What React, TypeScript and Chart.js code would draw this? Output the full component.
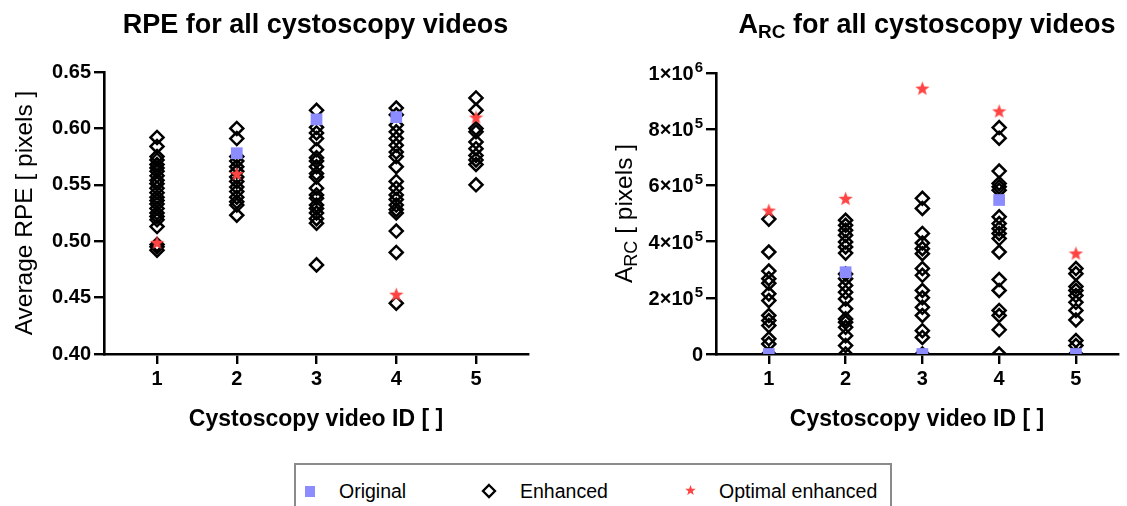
import React, { useEffect, useRef } from 'react';
import { Chart, registerables } from 'chart.js';
Chart.register(...registerables);

// ---------- DATA ----------
const videoIds = [1, 2, 3, 4, 5];

const rpeOriginal: (number | null)[] = [null, 0.578, 0.608, 0.61, null];
const rpeOptimal: (number | null)[] = [0.499, 0.56, null, 0.453, 0.61];
const rpeEnhanced1 = [0.592, 0.584, 0.575, 0.572, 0.568, 0.565, 0.562, 0.558, 0.554, 0.551, 0.547, 0.543, 0.539, 0.536, 0.533, 0.529, 0.525, 0.522, 0.519, 0.513, 0.497, 0.495, 0.492];
const rpeEnhanced2 = [0.6, 0.591, 0.575, 0.571, 0.566, 0.562, 0.557, 0.553, 0.548, 0.544, 0.539, 0.535, 0.532, 0.523];
const rpeEnhanced3 = [0.616, 0.601, 0.596, 0.591, 0.581, 0.574, 0.571, 0.566, 0.56, 0.557, 0.547, 0.541, 0.538, 0.532, 0.529, 0.525, 0.52, 0.516, 0.479];
const rpeEnhanced4 = [0.618, 0.612, 0.603, 0.597, 0.591, 0.585, 0.579, 0.575, 0.566, 0.553, 0.547, 0.541, 0.537, 0.532, 0.528, 0.525, 0.509, 0.49, 0.445];
const rpeEnhanced5 = [0.627, 0.616, 0.6, 0.597, 0.588, 0.582, 0.576, 0.572, 0.568, 0.55];
const rpeTickValues = [0.4, 0.45, 0.5, 0.55, 0.6, 0.65];
const rpeTickLabels = ['0.40', '0.45', '0.50', '0.55', '0.60', '0.65'];

const arcOriginal: (number | null)[] = [0, 291000, 0, 548000, 0];
const arcOptimal: (number | null)[] = [512000, 554000, 946000, 865000, 359000];
const arcEnhanced1 = [480000, 363000, 295000, 268000, 252000, 214000, 190000, 137000, 119000, 101000, 54000, 36000, 0];
const arcEnhanced2 = [476000, 458000, 440000, 423000, 399000, 381000, 359000, 285000, 268000, 244000, 220000, 196000, 161000, 125000, 113000, 95000, 65000, 30000, 0];
const arcEnhanced3 = [554000, 518000, 429000, 395000, 375000, 357000, 304000, 280000, 226000, 200000, 166000, 137000, 83000, 59000, 0];
const arcEnhanced4 = [806000, 768000, 651000, 607000, 595000, 583000, 488000, 464000, 446000, 429000, 411000, 363000, 265000, 226000, 155000, 137000, 86000, 0];
const arcEnhanced5 = [304000, 286000, 240000, 226000, 208000, 184000, 155000, 121000, 48000, 30000, 0];
const arcTickValues = [0, 200000, 400000, 600000, 800000, 1000000];
const arcTickBases = ['0', '2×10', '4×10', '6×10', '8×10', '1×10'];
const arcTickExps = ['', '5', '5', '5', '5', '6'];

const seriesNames = ['Original', 'Enhanced', 'Optimal enhanced'];
const xAxisTitle = 'Cystoscopy video ID [ ]';

// ---------- STYLE ----------
const FONT = '"Liberation Sans", Arial, Helvetica, sans-serif';
const ORIGINAL_COLOR = '#8c8cff';
const OPTIMAL_COLOR = '#ff4444';

type Part = { t: string; sub?: boolean };

function drawParts(ctx: CanvasRenderingContext2D, parts: Part[], cx: number, y: number, size: number, weight: string) {
  const subSize = Math.round(size * 0.72);
  const widths = parts.map((p) => {
    ctx.font = `${weight} ${p.sub ? subSize : size}px ${FONT}`;
    return ctx.measureText(p.t).width;
  });
  const total = widths.reduce((a, b) => a + b, 0);
  let x = cx - total / 2;
  ctx.textAlign = 'left';
  ctx.textBaseline = 'alphabetic';
  parts.forEach((p, i) => {
    ctx.font = `${weight} ${p.sub ? subSize : size}px ${FONT}`;
    ctx.fillText(p.t, x, p.sub ? y + size * 0.2 : y);
    x += widths[i];
  });
}

function makeStar(size: number, color: string) {
  const c = document.createElement('canvas');
  c.width = size;
  c.height = size;
  const g = c.getContext('2d')!;
  const cx = size / 2, cy = size / 2 + size * 0.05, R = size / 2, r = R * 0.42;
  g.beginPath();
  for (let i = 0; i < 10; i++) {
    const a = -Math.PI / 2 + (i * Math.PI) / 5;
    const rad = i % 2 === 0 ? R : r;
    g.lineTo(cx + rad * Math.cos(a), cy + rad * Math.sin(a));
  }
  g.closePath();
  g.fillStyle = color;
  g.fill();
  return c;
}

type Cfg = {
  original: (number | null)[];
  optimal: (number | null)[];
  enhanced: number[][];
  yMin: number;
  yMax: number;
  yTicks: number[];
  yLabels?: string[];
  yBases?: string[];
  yExps?: string[];
  xMin: number;
  xMax: number;
  yWidth: number;
  padTop: number;
  padRight: number;
  title: Part[];
  titleX: number;
  yTitle: Part[];
  yTitleX: number;
};

function makeChart(canvas: HTMLCanvasElement, cfg: Cfg) {
  const star = makeStar(15, OPTIMAL_COLOR);
  const enhancedPts: { x: number; y: number }[] = [];
  cfg.enhanced.forEach((arr, i) => arr.forEach((v) => enhancedPts.push({ x: videoIds[i], y: v })));
  const originalPts = cfg.original
    .map((v, i) => (v === null ? null : { x: videoIds[i], y: v }))
    .filter((p) => p !== null) as { x: number; y: number }[];
  const optimalPts = cfg.optimal
    .map((v, i) => (v === null ? null : { x: videoIds[i], y: v }))
    .filter((p) => p !== null) as { x: number; y: number }[];

  const supTicks = !!cfg.yBases;

  const textPlugin = {
    id: 'customTexts',
    afterDraw(chart: any) {
      const ctx = chart.ctx as CanvasRenderingContext2D;
      const ca = chart.chartArea;
      ctx.save();
      ctx.fillStyle = '#000';
      drawParts(ctx, cfg.title, cfg.titleX, 33, 27, 'bold');
      drawParts(ctx, [{ t: xAxisTitle }], (ca.left + ca.right) / 2, 426, 23, 'bold');
      if (supTicks) {
        const ys = chart.scales.y;
        const right = ys.right - 10 - 3;
        cfg.yTicks.forEach((v, i) => {
          const py = ys.getPixelForValue(v);
          const base = cfg.yBases![i];
          const exp = cfg.yExps![i];
          ctx.font = `bold 15px ${FONT}`;
          const we = exp ? ctx.measureText(exp).width + 1 : 0;
          ctx.font = `bold 20px ${FONT}`;
          const wb = ctx.measureText(base).width;
          ctx.textAlign = 'left';
          ctx.textBaseline = 'alphabetic';
          ctx.fillText(base, right - we - wb, py + 7);
          if (exp) {
            ctx.font = `bold 15px ${FONT}`;
            ctx.fillText(exp, right - we + 1, py - 1);
          }
        });
      }
      ctx.translate(cfg.yTitleX, (ca.top + ca.bottom) / 2);
      ctx.rotate(-Math.PI / 2);
      drawParts(ctx, cfg.yTitle, 0, 0, 24.5, 'normal');
      ctx.restore();
    },
  };

  return new Chart(canvas, {
    type: 'scatter',
    data: {
      datasets: [
        {
          label: seriesNames[2],
          data: optimalPts,
          pointStyle: star as any,
          pointRadius: 7.5,
          order: 0,
        },
        {
          label: seriesNames[0],
          data: originalPts,
          pointStyle: 'rect',
          pointRadius: 8.3,
          backgroundColor: ORIGINAL_COLOR,
          borderColor: ORIGINAL_COLOR,
          borderWidth: 0,
          order: 1,
        },
        {
          label: seriesNames[1],
          data: enhancedPts,
          pointStyle: 'rectRot',
          pointRadius: 6.5,
          backgroundColor: 'rgba(255,255,255,0)',
          borderColor: '#000',
          borderWidth: 2.5,
          order: 2,
        },
      ],
    },
    options: {
      animation: false,
      responsive: false,
      events: [],
      layout: { padding: { top: cfg.padTop, right: cfg.padRight, left: 0, bottom: 0 } },
      plugins: { legend: { display: false }, tooltip: { enabled: false }, title: { display: false } },
      scales: {
        x: {
          type: 'linear',
          min: cfg.xMin,
          max: cfg.xMax,
          afterBuildTicks: (s: any) => {
            s.ticks = videoIds.map((v) => ({ value: v }));
          },
          afterFit: (s: any) => {
            s.height = 101;
          },
          ticks: {
            callback: (v: any) => String(v),
            color: '#000',
            font: { family: FONT, size: 20, weight: 'bold' },
            padding: 3,
            maxRotation: 0,
          },
          grid: { display: true, drawOnChartArea: false, drawTicks: true, tickLength: 10, color: '#000', lineWidth: 2.4 },
          border: { display: true, color: '#000', width: 2.6 },
        },
        y: {
          type: 'linear',
          min: cfg.yMin,
          max: cfg.yMax,
          afterBuildTicks: (s: any) => {
            s.ticks = cfg.yTicks.map((v) => ({ value: v }));
          },
          afterFit: (s: any) => {
            s.width = cfg.yWidth;
          },
          ticks: {
            display: !supTicks,
            callback: (_v: any, i: number) => (cfg.yLabels ? cfg.yLabels[i] : ''),
            color: '#000',
            font: { family: FONT, size: 20, weight: 'bold' },
            padding: 3,
          },
          grid: { display: true, drawOnChartArea: false, drawTicks: true, tickLength: 10, color: '#000', lineWidth: 2.4 },
          border: { display: true, color: '#000', width: 2.6 },
        },
      },
    } as any,
    plugins: [textPlugin],
  });
}

function starPoints(cx: number, cy: number, R: number, r: number) {
  const pts: string[] = [];
  for (let i = 0; i < 10; i++) {
    const a = -Math.PI / 2 + (i * Math.PI) / 5;
    const rad = i % 2 === 0 ? R : r;
    pts.push(`${(cx + rad * Math.cos(a)).toFixed(2)},${(cy + rad * Math.sin(a)).toFixed(2)}`);
  }
  return pts.join(' ');
}

function LegendBox() {
  const BOX_L = 294;
  const BOX_T = 463;
  const L = BOX_L + 2;
  const T = BOX_T + 2;
  const base: React.CSSProperties = {
    position: 'absolute',
    top: 491 - T - 12,
    lineHeight: '24px',
    fontSize: 19.5,
    fontFamily: FONT,
    color: '#000',
    whiteSpace: 'nowrap',
  };
  return (
    <div
      style={{
        position: 'absolute',
        left: BOX_L,
        top: BOX_T,
        width: 598,
        height: 506 - BOX_T,
        boxSizing: 'border-box',
        borderTop: '2px solid #8a8a8a',
        borderLeft: '2px solid #8a8a8a',
        borderRight: '2px solid #8a8a8a',
      }}
    >
      <svg style={{ position: 'absolute', left: 0, top: 0 }} width={594} height={41}>
        <rect x={305 - L} y={486 - T} width={10} height={11} fill={ORIGINAL_COLOR} />
        <polygon
          points={`${489 - L},${485 - T} ${495 - L},${491 - T} ${489 - L},${497 - T} ${483 - L},${491 - T}`}
          fill="none"
          stroke="#000"
          strokeWidth={2.3}
        />
        <polygon points={starPoints(690.5 - L, 490.5 - T, 5.5, 2.3)} fill={OPTIMAL_COLOR} />
      </svg>
      <span style={{ ...base, left: 339 - L }}>{seriesNames[0]}</span>
      <span style={{ ...base, left: 520 - L }}>{seriesNames[1]}</span>
      <span style={{ ...base, left: 719 - L }}>{seriesNames[2]}</span>
    </div>
  );
}

export default function App() {
  const leftRef = useRef<HTMLCanvasElement>(null);
  const rightRef = useRef<HTMLCanvasElement>(null);

  useEffect(() => {
    const left = makeChart(leftRef.current!, {
      original: rpeOriginal,
      optimal: rpeOptimal,
      enhanced: [rpeEnhanced1, rpeEnhanced2, rpeEnhanced3, rpeEnhanced4, rpeEnhanced5],
      yMin: 0.4,
      yMax: 0.65,
      yTicks: rpeTickValues,
      yLabels: rpeTickLabels,
      xMin: 0.335,
      xMax: 5.652,
      yWidth: 104,
      padTop: 72,
      padRight: 32,
      title: [{ t: 'RPE for all cystoscopy videos' }],
      titleX: 315.5,
      yTitle: [{ t: 'Average RPE [ pixels ]' }],
      yTitleX: 32,
    });
    const right = makeChart(rightRef.current!, {
      original: arcOriginal,
      optimal: arcOptimal,
      enhanced: [arcEnhanced1, arcEnhanced2, arcEnhanced3, arcEnhanced4, arcEnhanced5],
      yMin: 0,
      yMax: 1000000,
      yTicks: arcTickValues,
      yBases: arcTickBases,
      yExps: arcTickExps,
      xMin: 0.312,
      xMax: 5.548,
      yWidth: 156,
      padTop: 73,
      padRight: 0,
      title: [{ t: 'A' }, { t: 'RC', sub: true }, { t: ' for all cystoscopy videos' }],
      titleX: 367,
      yTitle: [{ t: 'A' }, { t: 'RC', sub: true }, { t: ' [ pixels ]' }],
      yTitleX: 72,
    });
    return () => {
      left.destroy();
      right.destroy();
    };
  }, []);

  return (
    <div style={{ position: 'fixed', left: 0, top: 0, width: 1127, height: 506, overflow: 'hidden', background: '#fff' }}>
      <canvas ref={leftRef} width={560} height={455} style={{ position: 'absolute', left: 0, top: 0, width: 560, height: 455 }} />
      <canvas ref={rightRef} width={567} height={455} style={{ position: 'absolute', left: 560, top: 0, width: 567, height: 455 }} />
      <LegendBox />
    </div>
  );
}
